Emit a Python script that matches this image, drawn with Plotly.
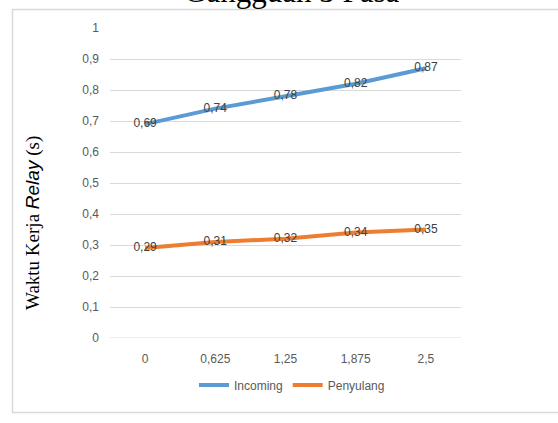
import plotly.graph_objects as go

categories = ["0", "0,625", "1,25", "1,875", "2,5"]
incoming = [0.69, 0.74, 0.78, 0.82, 0.87]
penyulang = [0.29, 0.31, 0.32, 0.34, 0.35]
y_ticks = [0, 0.1, 0.2, 0.3, 0.4, 0.5, 0.6, 0.7, 0.8, 0.9, 1]

W, H = 558, 423
L, R, T, B = 110, 97, 28, 85
pw, ph = W - L - R, H - T - B

def px(x):
    return (x - L) / pw

def py(y):
    return (H - B - y) / ph

def fmt(v):
    return f"{v:.2f}".replace(".", ",")

sans = "Liberation Sans, Arial, sans-serif"
serif = "Liberation Serif, Times New Roman, serif"

fig = go.Figure()
fig.add_trace(go.Scatter(
    x=categories, y=incoming, name="Incoming", mode="lines+text",
    line=dict(color="#5B9BD5", width=4),
    text=[fmt(v) for v in incoming], textposition="middle center",
    textfont=dict(family=sans, size=12, color="#404040"),
))
fig.add_trace(go.Scatter(
    x=categories, y=penyulang, name="Penyulang", mode="lines+text",
    line=dict(color="#ED7D31", width=4),
    text=[fmt(v) for v in penyulang], textposition="middle center",
    textfont=dict(family=sans, size=12, color="#404040"),
))

fig.update_layout(
    width=W, height=H,
    margin=dict(l=L, r=R, t=T, b=B, autoexpand=False),
    separators=",.",
    paper_bgcolor="white", plot_bgcolor="white",
    showlegend=True,
    legend=dict(
        orientation="h", x=px(292), xanchor="center", y=py(385), yanchor="middle",
        font=dict(family=sans, size=12, color="#595959"),
        itemwidth=30, tracegroupgap=0,
    ),
    xaxis=dict(
        type="category", range=[-0.5, 4.5], showgrid=False, zeroline=False,
        showline=False, ticks="", ticklabelstandoff=12,
        tickfont=dict(family=sans, size=12, color="#595959"),
    ),
    yaxis=dict(
        range=[0, 1], tickvals=y_ticks, showgrid=True, gridcolor="#D9D9D9",
        gridwidth=1, zeroline=False, showline=False, ticks="",
        ticklabelstandoff=10,
        tickfont=dict(family=sans, size=12, color="#595959"),
    ),
    shapes=[
        dict(type="rect", xref="paper", yref="paper",
             x0=px(12.5), x1=px(575), y0=py(9.5), y1=py(412.5),
             line=dict(color="#D9D9D9", width=1.5), layer="below"),
        dict(type="line", xref="paper", yref="y",
             x0=0, x1=1, y0=0, y1=0, line=dict(color="#D9D9D9", width=1)),
    ],
    annotations=[
        dict(text="Gangguan 3 Fasa", xref="paper", yref="paper",
             x=px(291), y=py(11), xanchor="center", yanchor="bottom",
             showarrow=False,
             font=dict(family=serif, size=31, color="#000000")),
        dict(text="Waktu Kerja <i><span style='font-family:Liberation Sans, Arial, sans-serif'>Relay</span></i> (s)",
             xref="paper", yref="paper", x=px(33), y=py(223),
             xanchor="center", yanchor="middle", textangle=-90, showarrow=False,
             font=dict(family=serif, size=19, color="#000000")),
    ],
)

fig.write_html(
    "out.html",
    config={"displayModeBar": False},
    post_script="document.body.style.margin='0';document.body.style.overflow='hidden';",
)
